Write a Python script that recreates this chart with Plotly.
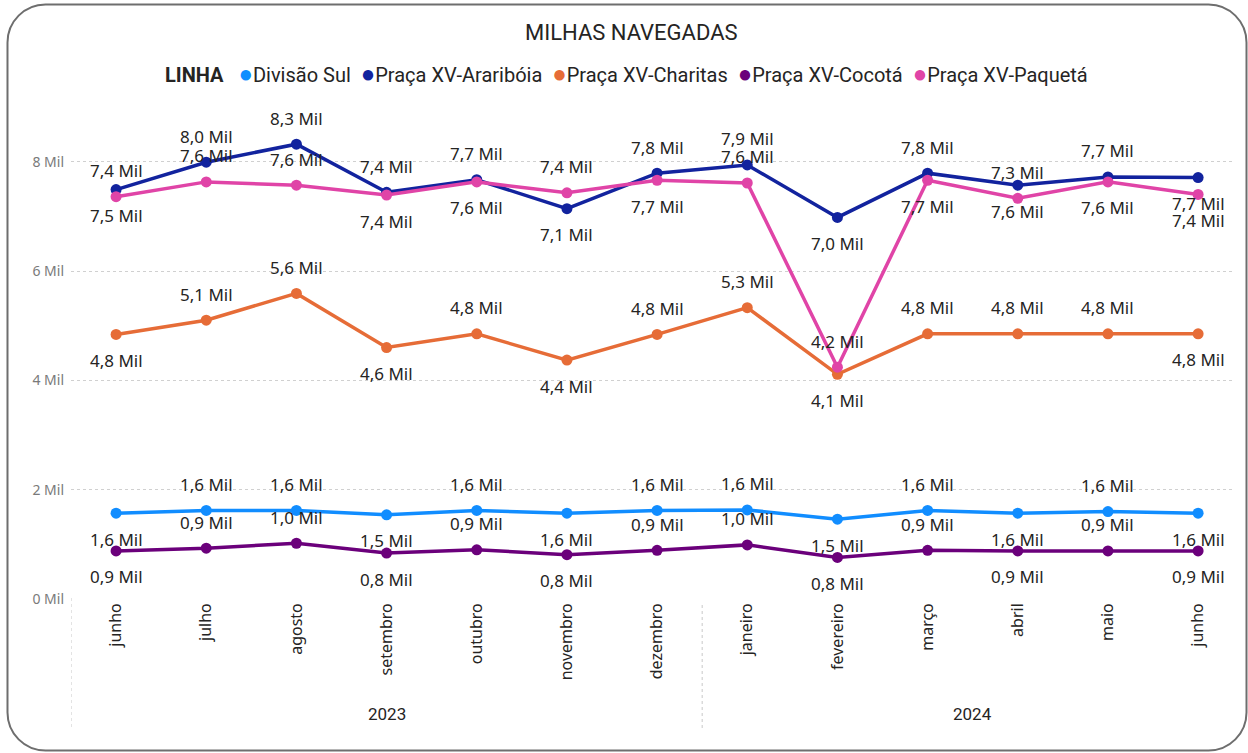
import plotly.graph_objects as go

# ---------------- data ----------------
months = ["junho", "julho", "agosto", "setembro", "outubro", "novembro", "dezembro",
          "janeiro", "fevereiro", "março", "abril", "maio", "junho"]
years = ["2023"] * 7 + ["2024"] * 6

series_names = ["Divisão Sul", "Praça XV-Araribóia", "Praça XV-Charitas",
                "Praça XV-Cocotá", "Praça XV-Paquetá"]

divisao_sul = [1570, 1620, 1620, 1540, 1620, 1570, 1620, 1630, 1460, 1620, 1570, 1600, 1570]
arariboia = [7490, 7990, 8320, 7440, 7670, 7140, 7790, 7940, 6980, 7790, 7570, 7720, 7710]
charitas = [4840, 5100, 5590, 4600, 4850, 4370, 4840, 5330, 4110, 4850, 4850, 4850, 4850]
cocota = [880, 930, 1020, 840, 900, 810, 890, 990, 760, 890, 880, 880, 880]
paqueta = [7360, 7630, 7570, 7390, 7630, 7430, 7660, 7610, 4240, 7660, 7330, 7630, 7400]

y_ticks = [0, 2000, 4000, 6000, 8000]
y_tick_labels = ["0 Mil", "2 Mil", "4 Mil", "6 Mil", "8 Mil"]

# ---------------- styles ----------------
colors = ["#118DFF", "#12239E", "#E66C37", "#6B007B", "#E044A7"]
# label placement per point: 'u' = above, 'd' = below
placements = [
    list("duududuududud"),   # Divisão Sul
    list("duuuuduududud"),   # Araribóia
    list("duududuuduuud"),   # Charitas
    list("duududuududud"),   # Cocotá
    list("uuudduduududd"),   # Paquetá
]

values = [divisao_sul, arariboia, charitas, cocota, paqueta]

W, H = 1248, 753
ML, MR, MT, MB = 71, 15, 107, 154
PW = W - ML - MR
PH = H - MT - MB


def px(x):
    return (x - ML) / PW


def py(y):
    return (H - MB - y) / PH


label_font = dict(family="Noto Sans, Open Sans, sans-serif", size=17, color="#252423")
x_idx = list(range(len(months)))

fig = go.Figure()
for name, vals, col in zip(series_names, values, colors):
    fig.add_trace(go.Scatter(
        x=x_idx, y=vals, name=name, mode="lines+markers",
        line=dict(color=col, width=3.5),
        marker=dict(color=col, size=11),
        showlegend=False,
    ))

annotations = []
for vals, plc in zip(values, placements):
    for i, v in enumerate(vals):
        txt = f"{v/1000:.1f}".replace(".", ",") + " Mil"
        annotations.append(dict(
            x=i, y=v, xref="x", yref="y", text=txt, showarrow=False,
            xanchor="center", yanchor="middle",
            yshift=26 if plc[i] == "u" else -26, font=label_font,
        ))

# year labels (second level of the category axis)
for yr, pos in (("2023", 3), ("2024", 9.5)):
    annotations.append(dict(x=pos, y=py(714), xref="x", yref="paper", text=yr,
                            showarrow=False, xanchor="center", yanchor="middle",
                            font=dict(family="Roboto, sans-serif", size=17, color="#252423")))

# title
annotations.append(dict(x=px(631), y=py(32), xref="paper", yref="paper",
                        text="MILHAS NAVEGADAS", showarrow=False,
                        xanchor="center", yanchor="middle",
                        font=dict(family="Roboto, sans-serif", size=22, color="#252423")))

# legend (built as text so the compact spacing matches)
parts = []
for name, col in zip(series_names, colors):
    parts.append(f"<span style='color:{col};font-size:24px'>●</span>{name}")
leg = "<b>LINHA</b>&nbsp;&nbsp; " + "&nbsp;&nbsp;".join(parts)
annotations.append(dict(x=px(626), y=py(74), xref="paper", yref="paper",
                        text=leg, showarrow=False, xanchor="center", yanchor="middle",
                        font=dict(family="Roboto, sans-serif", size=20, color="#252423")))

shapes = []
# dotted dividers for the year level
for xv, top in ((-0.5, 598), (6.5, 605)):
    shapes.append(dict(type="line", xref="x", yref="paper", x0=xv, x1=xv,
                       y0=py(top), y1=py(730),
                       line=dict(color="#C8C8C8", width=1, dash="dot")))

# rounded border around the visual
L, T, R, B, r = 7.5, 4.5, 1246.5, 750.5, 38
k = 0.5523 * r


def P(x, y):
    return f"{px(x):.5f},{py(y):.5f}"


path = (f"M {P(L + r, T)} L {P(R - r, T)} C {P(R - r + k, T)} {P(R, T + r - k)} {P(R, T + r)} "
        f"L {P(R, B - r)} C {P(R, B - r + k)} {P(R - r + k, B)} {P(R - r, B)} "
        f"L {P(L + r, B)} C {P(L + r - k, B)} {P(L, B - r + k)} {P(L, B - r)} "
        f"L {P(L, T + r)} C {P(L, T + r - k)} {P(L + r - k, T)} {P(L + r, T)} Z")
shapes.append(dict(type="path", xref="paper", yref="paper", path=path,
                   line=dict(color="#6E6E6E", width=2), layer="above"))

fig.update_layout(
    width=W, height=H,
    margin=dict(l=ML, r=MR, t=MT, b=MB),
    paper_bgcolor="white", plot_bgcolor="white",
    showlegend=False,
    annotations=annotations,
    shapes=shapes,
    xaxis=dict(
        tickmode="array", tickvals=x_idx, ticktext=months,
        range=[-0.5, 12.387], tickangle=-90, showgrid=False, zeroline=False,
        showline=False, ticks="",
        tickfont=dict(family="Noto Sans, sans-serif", size=16, color="#252423"),
    ),
    yaxis=dict(
        range=[0, 9000], tickmode="array", tickvals=y_ticks, ticktext=y_tick_labels,
        showgrid=True, gridcolor="#D0D0D0", griddash="dot", gridwidth=1,
        zeroline=False, showline=False, ticks="", ticklabelstandoff=6,
        tickfont=dict(family="Noto Sans, sans-serif", size=14, color="#7A7A7A"),
    ),
)

fig.write_html("out.html", config={"displayModeBar": False},
               post_script="document.body.style.margin='0px';")
